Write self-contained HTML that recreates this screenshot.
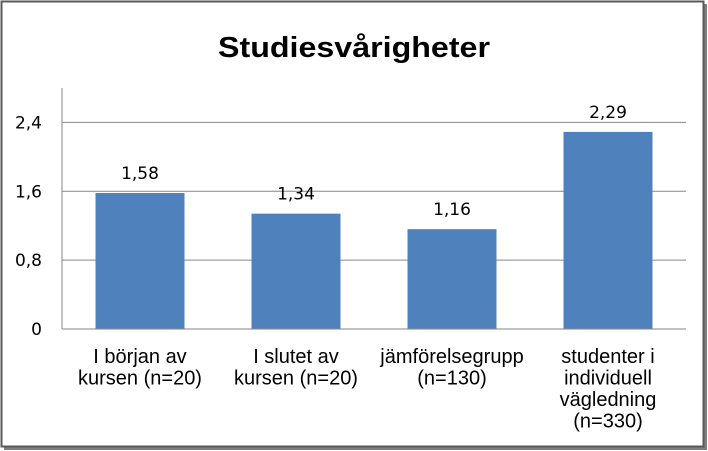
<!DOCTYPE html>
<html><head><meta charset="utf-8"><style>
body{margin:0;width:708px;height:451px;background:#fff;overflow:hidden}
svg{display:block;font-family:"Liberation Sans",Arial,sans-serif}
</style></head><body>
<svg id="c" width="708" height="451">
<rect x="0" y="0" width="708" height="451" fill="#fff"/>
<rect x="4" y="4" width="703" height="446" fill="#7f7f7f"/>
<rect x="1.5" y="1.5" width="702" height="445" fill="#fff" stroke="#5a5a5a" stroke-width="2"/>
<text x="354" y="57" text-anchor="middle" font-size="29" font-weight="bold" fill="#000" textLength="272" lengthAdjust="spacingAndGlyphs">Studiesvårigheter</text>
<g id="plot"></g>
</svg>
<script>
const categories=[["I början av","kursen (n=20)"],["I slutet av","kursen (n=20)"],["jämförelsegrupp","(n=130)"],["studenter i","individuell","vägledning","(n=330)"]];
const values=[1.58,1.34,1.16,2.29];
const valueLabels=["1,58","1,34","1,16","2,29"];
const ticks=[0,0.8,1.6,2.4];
const tickLabels=["0","0,8","1,6","2,4"];
const X0=62,X1=686,Y0=329,YTOP=88,VMAX=2.8;
const y=v=>Y0-(v/VMAX)*(Y0-YTOP);
const bw=(X1-X0)/categories.length;
const xc=i=>X0+bw*(i+0.5);
const g=document.getElementById('plot');const NS="http://www.w3.org/2000/svg";
function mk(t,a,txt){const e=document.createElementNS(NS,t);for(const k in a)e.setAttribute(k,a[k]);if(txt!=null)e.textContent=txt;g.appendChild(e);return e;}
ticks.forEach((t,i)=>{
 if(t>0){const l=mk('line',{x1:X0,x2:X1,y1:y(t),y2:y(t),stroke:'#868686','stroke-width':1});
 
 }
 const tx=mk('text',{x:X0-20,y:y(t)+6,'text-anchor':'end','font-size':17,fill:'#000','font-family':"'DejaVu Sans',sans-serif"},tickLabels[i]);
 
 
});
values.forEach((v,i)=>{
 const r=mk('rect',{x:xc(i)-44.5,y:y(v),width:89,height:Y0-y(v),fill:'#4f81bd'});
 
 
 const t=mk('text',{x:xc(i),y:y(v)-14,'text-anchor':'middle','font-size':17,fill:'#000','font-family':"'DejaVu Sans',sans-serif"},valueLabels[i]);
 
 
 categories[i].forEach((line,j)=>{
  const c=mk('text',{x:xc(i),y:363+j*21.5,'text-anchor':'middle','font-size':20,fill:'#000'},line);
  
  
 });
});
const ax=mk('line',{x1:X0,x2:X0,y1:YTOP,y2:Y0,stroke:'#868686','stroke-width':1});


const bx=mk('line',{x1:X0,x2:X1,y1:Y0,y2:Y0,stroke:'#868686','stroke-width':1});


</script>
</body></html>
